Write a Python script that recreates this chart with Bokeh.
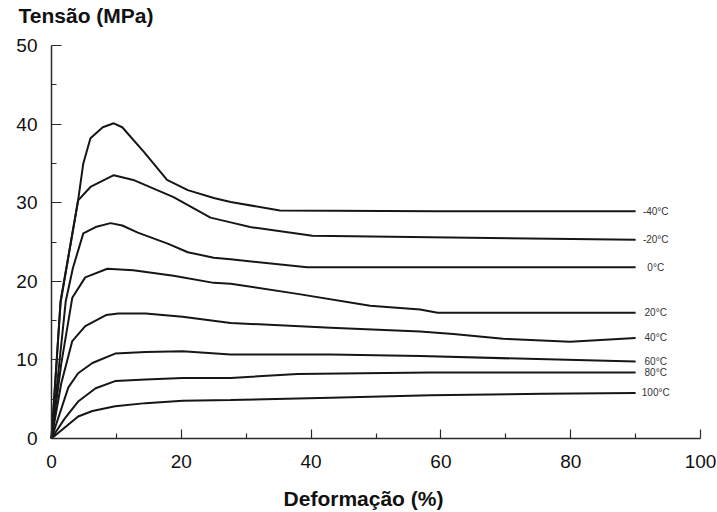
from bokeh.plotting import figure
from bokeh.models import Range1d, FixedTicker, ColumnDataSource, LinearAxis, Label
from bokeh.embed import file_html
from bokeh.resources import INLINE

# Stress-strain curves (strain in %, stress in MPa) at several temperatures
temps = ["-40°C", "-20°C", "0°C", "20°C", "40°C", "60°C", "80°C", "100°C"]

strain_m40 = [0, 1.4, 4.1, 4.9, 6.0, 7.9, 9.6, 10.9, 14.3, 17.8, 21.0, 25.0, 27.6, 35.2, 59.1, 90]
stress_m40 = [0, 17.5, 30.3, 35.0, 38.2, 39.6, 40.1, 39.6, 36.4, 32.9, 31.6, 30.6, 30.1, 29.0, 28.9, 28.9]

strain_m20 = [0, 1.4, 4.1, 6.0, 9.6, 12.6, 18.8, 24.5, 27.6, 30.6, 40.2, 58.4, 90]
stress_m20 = [0, 17.3, 30.3, 32.0, 33.5, 32.9, 30.7, 28.1, 27.5, 26.9, 25.8, 25.6, 25.3]

strain_0 = [0, 2.2, 3.3, 4.9, 6.8, 9.1, 10.9, 13.3, 17.9, 21.0, 25.0, 27.6, 39.4, 59.1, 90]
stress_0 = [0, 17.5, 21.7, 26.1, 26.9, 27.4, 27.1, 26.2, 24.8, 23.7, 23.0, 22.8, 21.8, 21.8, 21.8]

strain_20 = [0, 1.5, 3.2, 5.2, 8.6, 12.6, 18.8, 25.0, 27.6, 37.9, 49.1, 56.8, 59.5, 90]
stress_20 = [0, 9.5, 17.9, 20.5, 21.6, 21.4, 20.7, 19.8, 19.7, 18.4, 16.9, 16.4, 16.0, 16.0]

strain_40 = [0, 1.5, 3.2, 5.2, 8.4, 10.3, 14.5, 20.2, 27.6, 43.0, 56.8, 61.9, 69.6, 79.9, 90]
stress_40 = [0, 7.0, 12.4, 14.3, 15.7, 15.9, 15.9, 15.5, 14.7, 14.1, 13.6, 13.3, 12.7, 12.3, 12.8]

strain_60 = [0, 2.6, 4.1, 6.3, 9.8, 14.5, 20.2, 27.6, 43.0, 56.8, 74.9, 90]
stress_60 = [0, 6.5, 8.3, 9.6, 10.8, 11.0, 11.1, 10.7, 10.7, 10.5, 10.1, 9.8]

strain_80 = [0, 2.0, 4.1, 6.8, 9.8, 14.5, 20.2, 27.6, 37.9, 48.0, 58.4, 90]
stress_80 = [0, 2.5, 4.7, 6.4, 7.3, 7.5, 7.7, 7.7, 8.2, 8.3, 8.4, 8.4]

strain_100 = [0, 4.1, 6.3, 9.8, 14.5, 20.2, 27.6, 43.0, 58.4, 75.8, 90]
stress_100 = [0, 2.8, 3.5, 4.1, 4.5, 4.8, 4.9, 5.2, 5.5, 5.7, 5.8]

x_ticks = [0, 20, 40, 60, 80, 100]
x_minor = [10, 30, 50, 70, 90]
y_ticks = [0, 10, 20, 30, 40, 50]
y_minor = [5, 15, 25, 35, 45]

curves = [
    (strain_m40, stress_m40),
    (strain_m20, stress_m20),
    (strain_0, stress_0),
    (strain_20, stress_20),
    (strain_40, stress_40),
    (strain_60, stress_60),
    (strain_80, stress_80),
    (strain_100, stress_100),
]

# canvas layout: the plotting area spans the whole canvas and the axes sit
# at the data origin, leaving margins for tick labels and titles
W, H = 717, 512
pad_left, pad_right, pad_top, pad_bottom = 51, 17, 45, 74
x_lo, x_hi = x_ticks[0], x_ticks[-1]
y_lo, y_hi = y_ticks[0], y_ticks[-1]
xs_per_px = (x_hi - x_lo) / (W - pad_left - pad_right)
ys_per_px = (y_hi - y_lo) / (H - pad_top - pad_bottom)

p = figure(width=W, height=H, output_backend="svg", toolbar_location=None,
           x_range=Range1d(x_lo - pad_left * xs_per_px, x_hi + pad_right * xs_per_px),
           y_range=Range1d(y_lo - pad_bottom * ys_per_px, y_hi + pad_top * ys_per_px),
           x_axis_location=None, y_axis_location=None,
           min_border=0)
p.outline_line_color = None
p.xgrid.visible = False
p.ygrid.visible = False
p.background_fill_color = "white"
p.border_fill_color = "white"

ink = "#161616"
for xs, ys in curves:
    p.line(xs, ys, line_color=ink, line_width=2)

# temperature tags just past the end of each curve
tag_src = ColumnDataSource(dict(
    x=[c[0][-1] + 3.1 for c in curves],
    y=[c[1][-1] for c in curves],
    t=temps,
))
p.text(x="x", y="y", text="t", source=tag_src, text_align="center",
       text_baseline="middle", text_font_size="10px", text_color="#333333",
       text_font={"value": "Liberation Sans"})

xaxis = LinearAxis(fixed_location=y_lo, bounds=(x_lo, x_hi),
                   ticker=FixedTicker(ticks=x_ticks, minor_ticks=x_minor))
yaxis = LinearAxis(fixed_location=x_lo, bounds=(y_lo, y_hi),
                   ticker=FixedTicker(ticks=y_ticks, minor_ticks=y_minor))
for ax in (xaxis, yaxis):
    ax.axis_line_color = "#2a2a2a"
    ax.axis_line_width = 1.5
    ax.major_tick_line_color = "#2a2a2a"
    ax.minor_tick_line_color = "#2a2a2a"
    ax.major_tick_line_width = 1.2
    ax.minor_tick_line_width = 1.2
    ax.major_tick_out = 0
    ax.minor_tick_out = 0
    ax.major_label_text_font = "Liberation Sans"
    ax.major_label_text_font_size = "19px"
    ax.major_label_text_color = "#111111"

xaxis.major_tick_in = 9
xaxis.minor_tick_in = 5
xaxis.major_label_standoff = 16
yaxis.major_tick_in = 10
yaxis.minor_tick_in = 5
yaxis.major_label_standoff = 14
p.add_layout(xaxis, "below")
p.add_layout(yaxis, "left")

p.add_layout(Label(x=18, y=H - 15, x_units="screen", y_units="screen",
                   text="Tensão (MPa)", text_font="Liberation Sans",
                   text_font_style="bold", text_font_size="21px",
                   text_color="#111111", text_baseline="alphabetic"))
p.add_layout(Label(x=363, y=H - 498, x_units="screen", y_units="screen",
                   text="Deformação (%)", text_font="Liberation Sans",
                   text_font_style="bold", text_font_size="21px",
                   text_color="#111111", text_align="center",
                   text_baseline="alphabetic"))

open("out.html", "w").write(file_html(p, INLINE))
